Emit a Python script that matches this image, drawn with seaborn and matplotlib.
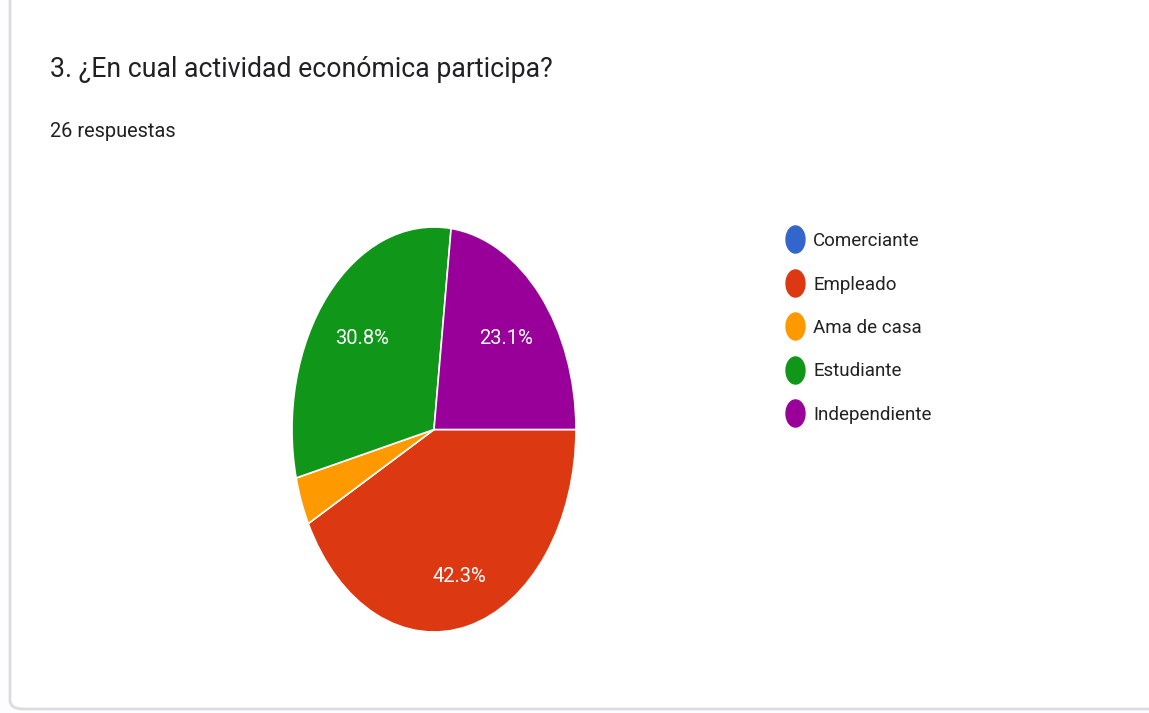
import numpy as np
import matplotlib
matplotlib.use("Agg")
import matplotlib.pyplot as plt
from matplotlib.lines import Line2D
from matplotlib.patches import FancyBboxPatch
from matplotlib.path import Path
import seaborn as sns

# Survey answers
categories = ["Comerciante", "Empleado", "Ama de casa", "Estudiante", "Independiente"]
counts = [0, 11, 1, 8, 6]
total_responses = 26
title_text = "3. ¿En cual actividad económica participa?"
subtitle_text = f"{total_responses} respuestas"

palette = ["#3366cc", "#dc3912", "#ff9900", "#109618", "#990099"]

sns.set_theme(style="white")
plt.rcParams["font.family"] = ["Roboto", "DejaVu Sans"]

W, H = 1149, 713
fig = plt.figure(figsize=(W / 100, H / 100), dpi=100)
fig.patch.set_facecolor("#fdfdfd")

# Card outline, kept behind everything else
card = FancyBboxPatch((10 / W, 4 / H), 1.2, 1.2, boxstyle="round,pad=0,rounding_size=0.012",
                      transform=fig.transFigure, facecolor="white", edgecolor="#dadce0",
                      linewidth=2.0, zorder=-10)
fig.patches.append(card)

fig.text(50 / W, 1 - 77 / H, title_text, fontsize=19.15, color="#202124", va="baseline", ha="left")
fig.text(50 / W, 1 - 137 / H, subtitle_text, fontsize=14.4, color="#202124", va="baseline", ha="left")

# Pie area (stretched ellipse)
left, right, top, bottom = 292, 576, 227, 632
ax = fig.add_axes([left / W, 1 - bottom / H, (right - left) / W, (bottom - top) / H])
ax.set_facecolor("none")

def pct_label(p):
    return f"{p:.1f}%" if p > 5 else ""

wedges, texts, autotexts = ax.pie(
    counts, colors=palette, startangle=0, counterclock=False, radius=1.0,
    autopct=pct_label, pctdistance=0.68,
    wedgeprops=dict(edgecolor="white", linewidth=1.2),
    textprops=dict(color="white", fontsize=14.5),
)

# Push the label of the largest slice a little further out
big = int(np.argmax(counts))
w = wedges[big]
mid = np.deg2rad((w.theta1 + w.theta2) / 2)
autotexts[big].set_position((0.75 * np.cos(mid), 0.75 * np.sin(mid)))

ax.set_aspect("auto")
ax.set_xlim(-1, 1)
ax.set_ylim(-1, 1)
ax.axis("off")

# Tall elliptical legend marker
theta = np.linspace(0, 2 * np.pi, 60)
ell_marker = Path(np.column_stack([0.70 * np.cos(theta), np.sin(theta)]), closed=True)

handles = [Line2D([], [], linestyle="none", marker=ell_marker, markersize=19.5,
                  markerfacecolor=c, markeredgecolor=c) for c in palette]
leg = fig.legend(handles, categories, loc="upper left",
                 bbox_to_anchor=(786 / W, 1 - 232 / H), frameon=False,
                 fontsize=13.5, labelspacing=1.36, handlelength=1.0,
                 handletextpad=0.45, borderaxespad=0, borderpad=0)
for t in leg.get_texts():
    t.set_color("#222222")

fig.savefig("out.png", dpi=100, facecolor=fig.get_facecolor())
